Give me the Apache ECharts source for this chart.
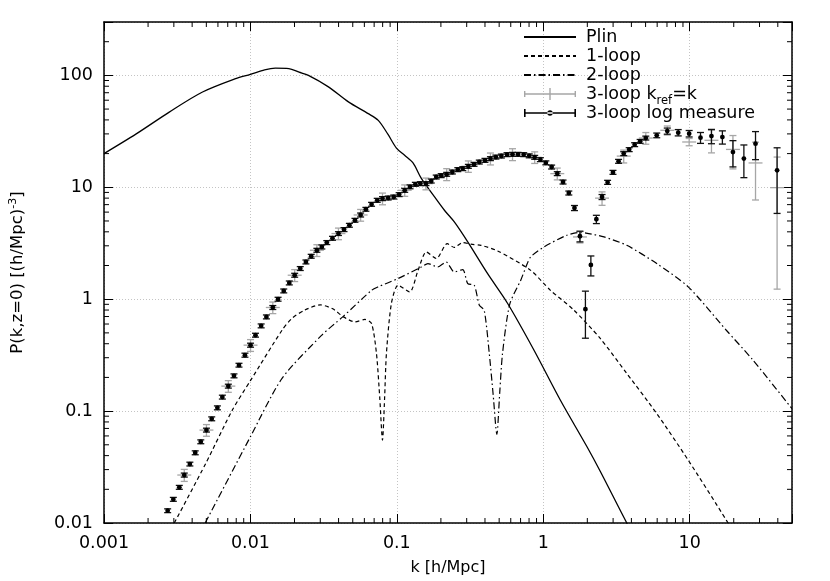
<!DOCTYPE html>
<html><head><meta charset="utf-8">
<script src="https://cdn.jsdelivr.net/npm/echarts@6/dist/echarts.min.js"></script>
<style>html,body{margin:0;padding:0;background:#fff}#c{width:830px;height:581px}</style>
</head><body><div id="c"></div>
<script>
// ---------- data ----------
const xTickLabels = ['0.001', '0.01', '0.1', '1', '10'];   // exponents -3..1
const yTickLabels = ['0.01', '0.1', '1', '10', '100'];     // exponents -2..2
const minorMultipliers = [2, 3, 4, 5, 6, 7, 8, 9];

const plinK = [0.001, 0.00166, 0.00279, 0.00471, 0.00793, 0.01, 0.0125, 0.0148, 0.0183, 0.0215, 0.0249, 0.0341, 0.0467, 0.0638, 0.0747, 0.0873, 0.0994, 0.113, 0.129, 0.147, 0.181, 0.212, 0.247, 0.305, 0.417, 0.57, 0.865, 1.31, 1.99, 2.46, 3.72, 5.5];
const plinP = [20, 30, 47, 71, 93.5, 102, 112, 116, 115, 107, 100, 79, 58, 45.5, 39.6, 29.5, 22.4, 19.3, 16.5, 12, 8.2, 6.2, 4.9, 3.25, 1.69, 0.92, 0.35, 0.125, 0.048, 0.0287, 0.01, 0.0039];

const oneLoopK = [0.00302, 0.00495, 0.00752, 0.01, 0.01644, 0.0192, 0.0235, 0.03, 0.0365, 0.0432, 0.0518, 0.0605, 0.0672, 0.0726, 0.0765, 0.0798, 0.0825, 0.0849, 0.0918, 0.102, 0.1224, 0.1396, 0.159, 0.186, 0.221, 0.247, 0.282, 0.321, 0.376, 0.488, 0.821, 1.12, 1.6, 2.45, 3.72, 5.96, 9.77, 17.8, 25];
const oneLoopP = [0.01, 0.034, 0.102, 0.187, 0.528, 0.673, 0.80, 0.89, 0.82, 0.695, 0.627, 0.659, 0.607, 0.327, 0.13, 0.055, 0.13, 0.327, 0.916, 1.33, 1.16, 1.81, 2.64, 2.31, 3.14, 2.90, 3.21, 3.10, 3.03, 2.70, 1.81, 1.20, 0.81, 0.446, 0.217, 0.095, 0.0365, 0.0106, 0.005];

const twoLoopK = [0.00491, 0.01, 0.01644, 0.0307, 0.0427, 0.0672, 0.0747, 0.102, 0.147, 0.163, 0.19, 0.217, 0.247, 0.282, 0.305, 0.338, 0.366, 0.395, 0.428, 0.455, 0.482, 0.505, 0.527, 0.59, 0.702, 0.778, 0.821, 1.01, 1.45, 1.75, 1.96, 2.6, 3.72, 5.96, 9.77, 17.8, 27.1, 50];
const twoLoopP = [0.01, 0.059, 0.196, 0.477, 0.695, 1.20, 1.29, 1.53, 1.94, 2.08, 1.94, 2.15, 1.75, 1.84, 1.38, 1.33, 0.883, 0.798, 0.327, 0.14, 0.062, 0.15, 0.327, 0.9, 1.48, 2.08, 2.39, 2.93, 3.73, 3.94, 3.9, 3.6, 3.03, 2.08, 1.29, 0.528, 0.285, 0.105];

// 3-loop log measure (black): k, P, sigma
const blackK = [0.002721, 0.002975, 0.003268, 0.003534, 0.003859, 0.004198, 0.004581, 0.005008, 0.005441, 0.005949,
  0.006432, 0.007066, 0.007724, 0.008354, 0.009175, 0.01002, 0.01083, 0.01184, 0.01286, 0.01422,
  0.01545, 0.01689, 0.01843, 0.02006, 0.0219, 0.02394, 0.02601, 0.02844, 0.03075, 0.03324,
  0.03635, 0.03993, 0.04358, 0.04742, 0.05176, 0.05658, 0.06148, 0.06722, 0.07347, 0.07983,
  0.08728, 0.09526, 0.1037, 0.1132, 0.1231, 0.1338, 0.1447, 0.1581, 0.1718, 0.1858,
  0.2009, 0.219, 0.2394, 0.2609, 0.2821, 0.308, 0.3367, 0.3658, 0.3999, 0.4358,
  0.4749, 0.5176, 0.5658, 0.6167, 0.6731, 0.7357, 0.8021, 0.8741, 0.9557, 1.042,
  1.141, 1.247, 1.365, 1.495, 1.634, 1.781, 1.941, 2.115, 2.306, 2.521,
  2.751, 2.994, 3.268, 3.545, 3.864, 4.21, 4.589, 5.017, 5.958, 7.033,
  8.354, 9.922, 11.86, 14.09, 16.73, 19.75, 23.46, 28.17, 39.55];
const blackP = [0.01288, 0.01628, 0.02084, 0.02683, 0.03364, 0.04243, 0.0532, 0.06767, 0.08537, 0.107,
  0.1334, 0.1672, 0.2066, 0.2574, 0.3162, 0.3884, 0.4771, 0.5777, 0.695, 0.8431,
  1.0, 1.186, 1.398, 1.638, 1.88, 2.153, 2.42, 2.738, 2.931, 3.208,
  3.504, 3.86, 4.191, 4.578, 5.075, 5.658, 6.362, 7.05, 7.654, 7.927,
  8.026, 8.192, 8.605, 9.401, 10.1, 10.64, 10.79, 10.79, 11.38, 12.36,
  12.72, 13.07, 13.7, 14.39, 14.69, 15.4, 16.05, 16.82, 17.42, 18.04,
  18.64, 19.03, 19.59, 19.71, 19.71, 19.59, 19.11, 18.53, 17.67, 16.55,
  15.18, 13.25, 11.15, 8.894, 6.534, 3.652, 0.814, 2.024, 5.179, 8.192,
  11.08, 13.61, 17.07, 20.0, 21.71, 24.06, 25.74, 27.55, 29.12, 31.82,
  30.79, 30.17, 27.78, 28.71, 28.13, 20.66, 18.04, 24.56, 14.19];
const blackSig = [0.0005, 0.00065, 0.00083, 0.0011, 0.0013, 0.0017, 0.0021, 0.0027, 0.0034, 0.0043,
  0.0053, 0.0067, 0.0083, 0.010, 0.013, 0.016, 0.019, 0.023, 0.028, 0.034,
  0.04, 0.047, 0.056, 0.066, 0.075, 0.086, 0.097, 0.11, 0.12, 0.13,
  0.14, 0.15, 0.17, 0.18, 0.20, 0.23, 0.25, 0.28, 0.31, 0.32,
  0.32, 0.33, 0.34, 0.38, 0.40, 0.43, 0.43, 0.43, 0.46, 0.49,
  0.51, 0.52, 0.55, 0.58, 0.59, 0.62, 0.64, 0.67, 0.70, 0.72,
  0.75, 0.76, 0.78, 0.79, 0.79, 0.78, 0.76, 0.74, 0.71, 0.66,
  0.61, 0.53, 0.45, 0.36, 0.34, 0.40, 0.366, 0.41, 0.44, 0.42,
  0.46, 0.55, 0.68, 0.8, 0.87, 0.96, 1.0, 1.1, 1.4, 2.0,
  2.0, 2.0, 3.1, 4.2, 3.8, 5.45, 5.85, 6.9, 8.35];

// 3-loop k_ref=k (gray): k, P, k range, sigma
const grayK = [0.003534, 0.005008, 0.007066, 0.01002, 0.01422, 0.02006, 0.02844, 0.03993, 0.05658, 0.07983,
  0.1132, 0.1581, 0.219, 0.308, 0.4358, 0.6167, 0.8741, 1.247, 1.781, 2.521,
  3.545, 5.017, 7.033, 9.922, 14.09, 19.75, 28.17, 39.55];
const grayP = [0.02683, 0.06767, 0.1672, 0.3884, 0.8431, 1.638, 2.738, 3.86, 5.658, 7.927,
  9.401, 10.79, 13.07, 15.4, 18.04, 19.71, 18.53, 13.25, 3.6, 8.0,
  19.0, 27.55, 32.3, 25.4, 26.3, 21.8, 16.5, 9.93];
const grayKLo = [0.003166, 0.004487, 0.006331, 0.008978, 0.01274, 0.01797, 0.02548, 0.03578, 0.0507, 0.07153,
  0.1014, 0.1417, 0.1962, 0.276, 0.3905, 0.5526, 0.7832, 1.117, 1.596, 2.259,
  3.176, 4.495, 6.302, 8.89, 12.62, 17.7, 25.24, 35.44];
const grayKHi = [0.003944, 0.005589, 0.007886, 0.01118, 0.01587, 0.02239, 0.03174, 0.04456, 0.06314, 0.08909,
  0.1263, 0.1764, 0.2444, 0.3437, 0.4864, 0.6882, 0.9755, 1.392, 1.988, 2.813,
  3.956, 5.599, 7.849, 11.07, 15.72, 22.04, 31.44, 44.14];
const graySig = [0.0033, 0.0081, 0.020, 0.047, 0.10, 0.20, 0.33, 0.46, 0.68, 0.95,
  1.1, 1.3, 1.6, 1.8, 2.2, 2.4, 2.2, 1.6, 0.42, 1.1,
  2.5, 3.3, 3.0, 1.9, 6.0, 7.2, 8.8, 8.7];

// ---------- chart ----------
const FONT = 'DejaVu Sans';
const X_MIN = 0.001, X_MAX = 50, Y_MIN = 0.01, Y_MAX = 300;

function decadeLabel(labels, e0) {
  return function (v) {
    const e = Math.log10(v), r = Math.round(e);
    if (Math.abs(e - r) > 1e-6) return '';
    return labels[r - e0] || '';
  };
}

const pairs = (ks, ps) => ks.map((k, i) => [k, ps[i]]);
const blackData = blackK.map((k, i) => [k, blackP[i], blackSig[i]]);
const grayData = grayK.map((k, i) => [k, grayP[i], grayKLo[i], grayKHi[i], graySig[i]]);

const minorData = [];
for (let e = -3; e <= 1; e++) minorMultipliers.forEach(m => { const v = m * Math.pow(10, e); if (v < X_MAX) minorData.push([v, 1, 0]); });
for (let e = -2; e <= 2; e++) minorMultipliers.forEach(m => { const v = m * Math.pow(10, e); if (v < Y_MAX) minorData.push([1, v, 1]); });

const frame = { show: true, onZero: false, lineStyle: { color: '#000', width: 1.5 } };
const tick = { show: true, inside: true, length: 9, lineStyle: { color: '#000', width: 1 } };
const grid = { show: true, lineStyle: { color: '#c4c4c4', width: 1, type: [1, 2] } };
const hideSym = { color: 'rgba(0,0,0,0)', borderColor: 'rgba(0,0,0,0)', borderWidth: 0 };

const chart = echarts.init(document.getElementById('c'), null, { renderer: 'canvas' });
chart.setOption({
  animation: false,
  backgroundColor: '#fff',
  grid: { left: 101, right: 38, top: 22, bottom: 58, containLabel: false },
  xAxis: [
    { type: 'log', logBase: 10, min: X_MIN, max: X_MAX, position: 'bottom',
      axisLine: frame, axisTick: tick, splitLine: grid,
      axisLabel: { formatter: decadeLabel(xTickLabels, -3), color: '#000', fontFamily: FONT, fontSize: 17.5, margin: 11 },
      name: 'k [h/Mpc]', nameLocation: 'middle', nameGap: 37,
      nameTextStyle: { color: '#000', fontFamily: FONT, fontSize: 16 } },
    { type: 'log', logBase: 10, min: X_MIN, max: X_MAX, position: 'top',
      axisLine: frame, axisTick: tick, splitLine: { show: false }, axisLabel: { show: false } }
  ],
  yAxis: [
    { type: 'log', logBase: 10, min: Y_MIN, max: Y_MAX, position: 'left',
      axisLine: frame, axisTick: tick, splitLine: grid,
      axisLabel: { formatter: decadeLabel(yTickLabels, -2), color: '#000', fontFamily: FONT, fontSize: 17.5, margin: 11 },
      name: 'P(k,z=0) [(h/Mpc){sup|-3}]', nameLocation: 'middle', nameGap: 76, nameRotate: 90,
      nameTextStyle: { color: '#000', fontFamily: FONT, fontSize: 16.5, lineHeight: 20,
        rich: { sup: { fontFamily: FONT, fontSize: 11, color: '#000', verticalAlign: 'top', lineHeight: 10 } } } },
    { type: 'log', logBase: 10, min: Y_MIN, max: Y_MAX, position: 'right',
      axisLine: frame, axisTick: tick, splitLine: { show: false }, axisLabel: { show: false } }
  ],
  legend: {
    orient: 'vertical', left: 523, top: 24, padding: 0, itemWidth: 52, itemHeight: 12, itemGap: -7,
    textStyle: { color: '#000', fontFamily: FONT, fontSize: 17.5, lineHeight: 26, padding: [0, 0, 0, 5],
      rich: { sub: { fontFamily: FONT, fontSize: 11.5, color: '#000', verticalAlign: 'bottom', lineHeight: 14 } } },
    formatter: n => n.replace('k_ref', 'k{sub|ref}'),
    data: [
      { name: 'Plin', itemStyle: hideSym, lineStyle: { color: '#000' } },
      { name: '1-loop', itemStyle: hideSym, lineStyle: { color: '#000' } },
      { name: '2-loop', itemStyle: hideSym, lineStyle: { color: '#000' } },
      { name: '3-loop k_ref=k', icon: 'path://M0,5.3h52v1.4h-52z M0,3h1.4v6h-1.4z M50.6,3h1.4v6h-1.4z M25.3,0h1.4v12h-1.4z',
        itemStyle: { color: '#a6a6a6' } },
      { name: '3-loop log measure', icon: 'path://M0,5.2h52v1.6h-52z M0,2h1.6v8h-1.6z M50.4,2h1.6v8h-1.6z M23.3,6a2.7,2.7 0 1,0 5.4,0a2.7,2.7 0 1,0 -5.4,0z',
        itemStyle: { color: '#000' } }
    ]
  },
  series: [
    { name: 'Plin', type: 'line', data: pairs(plinK, plinP), showSymbol: false, symbol: 'none', smooth: 0.3,
      lineStyle: { color: '#000', width: 1.3, type: 'solid' }, itemStyle: { color: '#000' }, z: 3 },
    { name: '1-loop', type: 'line', data: pairs(oneLoopK, oneLoopP), showSymbol: false, symbol: 'none', smooth: 0.25,
      lineStyle: { color: '#000', width: 1.2, type: [4, 3] }, itemStyle: { color: '#000' }, z: 3 },
    { name: '2-loop', type: 'line', data: pairs(twoLoopK, twoLoopP), showSymbol: false, symbol: 'none', smooth: 0.25,
      lineStyle: { color: '#000', width: 1.2, type: [7, 3, 1.5, 3] }, itemStyle: { color: '#000' }, z: 3 },
    { name: '3-loop k_ref=k', type: 'custom', data: grayData, itemStyle: { color: '#a6a6a6' }, z: 4,
      encode: { x: 0, y: 1 },
      renderItem: function (params, api) {
        const k = api.value(0), p = api.value(1), kl = api.value(2), kh = api.value(3), s = api.value(4);
        const c = api.coord([k, p]);
        const xl = api.coord([kl, p])[0], xh = api.coord([kh, p])[0];
        const top = api.coord([k, p + s])[1], bot = api.coord([k, Math.max(p - s, 1e-4)])[1];
        const st = { stroke: '#a6a6a6', lineWidth: 1.3 };
        return { type: 'group', children: [
          { type: 'line', shape: { x1: c[0], y1: top, x2: c[0], y2: bot }, style: st },
          { type: 'line', shape: { x1: xl, y1: c[1], x2: xh, y2: c[1] }, style: st },
          { type: 'line', shape: { x1: c[0] - 3.5, y1: top, x2: c[0] + 3.5, y2: top }, style: st },
          { type: 'line', shape: { x1: c[0] - 3.5, y1: bot, x2: c[0] + 3.5, y2: bot }, style: st }
        ] };
      } },
    { name: '3-loop log measure', type: 'custom', data: blackData, itemStyle: { color: '#000' }, z: 5,
      encode: { x: 0, y: 1 },
      renderItem: function (params, api) {
        const k = api.value(0), p = api.value(1), s = api.value(2);
        const c = api.coord([k, p]);
        const top = api.coord([k, p + s])[1], bot = api.coord([k, Math.max(p - s, 1e-4)])[1];
        const st = { stroke: '#111', lineWidth: 1.3 };
        return { type: 'group', children: [
          { type: 'line', shape: { x1: c[0], y1: top, x2: c[0], y2: bot }, style: st },
          { type: 'line', shape: { x1: c[0] - 3.5, y1: top, x2: c[0] + 3.5, y2: top }, style: st },
          { type: 'line', shape: { x1: c[0] - 3.5, y1: bot, x2: c[0] + 3.5, y2: bot }, style: st },
          { type: 'circle', shape: { cx: c[0], cy: c[1], r: 2.4 }, style: { fill: '#000' } }
        ] };
      } },
    { name: 'minorTicks', type: 'custom', data: minorData, silent: true, z: 6,
      encode: { x: 0, y: 1 },
      renderItem: function (params, api) {
        const cs = params.coordSys;
        const v0 = api.value(0), v1 = api.value(1), flag = api.value(2);
        const st = { stroke: '#000', lineWidth: 1 };
        if (flag === 0) {
          const x = api.coord([v0, 1])[0];
          return { type: 'group', children: [
            { type: 'line', shape: { x1: x, y1: cs.y + cs.height, x2: x, y2: cs.y + cs.height - 5 }, style: st },
            { type: 'line', shape: { x1: x, y1: cs.y, x2: x, y2: cs.y + 5 }, style: st }
          ] };
        }
        const y = api.coord([1, v1])[1];
        return { type: 'group', children: [
          { type: 'line', shape: { x1: cs.x, y1: y, x2: cs.x + 5, y2: y }, style: st },
          { type: 'line', shape: { x1: cs.x + cs.width, y1: y, x2: cs.x + cs.width - 5, y2: y }, style: st }
        ] };
      } }
  ]
});
</script>
</body></html>
